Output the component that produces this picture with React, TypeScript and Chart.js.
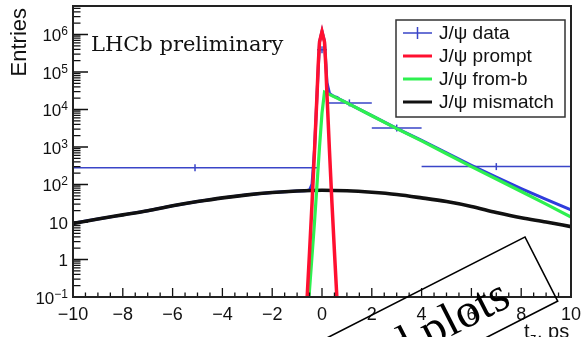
import React, { useEffect, useRef } from "react";
import { Chart, registerables } from "chart.js";
Chart.register(...registerables);

// ---------- data ----------
const X_MIN = -10;
const X_MAX = 10;
const Y_MIN = 0.1;
const Y_MAX = 5.75e6;

// J/psi data: bins
const dataBinLow = [-10, -0.2, 0.2, 2, 4];
const dataBinHigh = [-0.2, 0.2, 2, 4, 10];
const dataValues = [280, 3.9e5, 1.5e4, 3200, 300];

// prompt component
const promptT = [-0.7, -0.6, -0.5, -0.4, -0.3, -0.2, -0.15, -0.1, 0, 0.1, 0.15, 0.2, 0.3, 0.4, 0.5, 0.6, 0.7];
const promptV = [0.005, 0.09, 1.6, 32, 800, 2.5e4, 1.6e5, 6.3e5, 1.2e6, 6.3e5, 1.6e5, 2.5e4, 800, 32, 1.6, 0.09, 0.005];

// from-b component
const fromBT = [-0.6, -0.5, -0.4, -0.3, -0.2, -0.1, 0, 0.1, 1, 2, 3, 4, 5, 6, 7, 8, 9, 10];
const fromBV = [0.02, 0.16, 1.26, 10, 100, 1000, 8000, 2.9e4, 1.5e4, 6800, 3100, 1450, 660, 300, 140, 65, 30, 13.5];

// mismatch component
const mismatchT = [-10, -9, -8, -7, -6, -5, -4, -3, -2, -1, 0, 1, 2, 3, 4, 5, 6, 7, 8, 9, 10];
const mismatchV = [9.2, 12, 15.5, 20, 27, 35, 44, 53, 61, 67, 70, 68, 62, 54, 44, 35, 26, 18, 13, 10, 7.5];

// total fit
const totalT = [-10, -9, -8, -7, -6, -5, -4, -3, -2, -1, -0.7, -0.6, -0.5, -0.4, -0.3, -0.2, -0.1, 0, 0.1, 0.2, 0.3, 0.4, 0.5, 0.6, 0.7, 1, 2, 3, 4, 5, 6, 7, 8, 9, 10];
const totalV = [9.2, 12, 15.5, 20, 27, 35, 44, 53, 61, 67, 68, 69, 71, 103, 880, 2.52e4, 6.3e5, 1.21e6, 6.6e5, 5.25e4, 2.68e4, 2.4e4, 2.2e4, 2.1e4, 1.9e4, 1.5e4, 6860, 3150, 1494, 695, 326, 158, 78, 40, 21];

// axis labels
const xTickValues = [-10, -8, -6, -4, -2, 0, 2, 4, 6, 8, 10];
const xTickLabels = ["\u221210", "\u22128", "\u22126", "\u22124", "\u22122", "0", "2", "4", "6", "8", "10"];
const yTickValues = [0.1, 1, 10, 100, 1e3, 1e4, 1e5, 1e6];
const yTickBase = ["10", "1", "10", "10", "10", "10", "10", "10"];
const yTickExp = ["\u22121", "", "", "2", "3", "4", "5", "6"];

const legendLabels = ["J/\u03c8 data", "J/\u03c8 prompt", "J/\u03c8 from-b", "J/\u03c8 mismatch"];
const legendColors = ["#3a45c8", "#ff1030", "#2ef050", "#111111"];

const COL_TOTAL = "#2f3cdc";
const COL_DATA = "#3a45c8";
const COL_PROMPT = "#ff1030";
const COL_FROMB = "#2ef050";
const COL_MIS = "#111111";

const SANS = '"Liberation Sans", Arial, Helvetica, sans-serif';
const SERIF = '"Liberation Serif", "Times New Roman", serif';

function pts(t: number[], v: number[]) {
  return t.map((x, i) => ({ x, y: v[i] }));
}

const decorPlugin = {
  id: "decor",
  afterDraw(chart: any) {
    const { ctx, chartArea: a, scales } = chart;
    const xs = scales.x;
    const ys = scales.y;
    ctx.save();

    // ticks
    ctx.strokeStyle = "#111";
    ctx.lineWidth = 1.3;
    ctx.beginPath();
    for (let v = X_MIN; v <= X_MAX + 1e-9; v += 0.5) {
      const px = xs.getPixelForValue(v);
      const major = Math.abs(v / 2 - Math.round(v / 2)) < 1e-6;
      const len = major ? 9 : 4.5;
      ctx.moveTo(px, a.bottom);
      ctx.lineTo(px, a.bottom - len);
    }
    for (let e = -1; e <= 6; e++) {
      for (let m = 1; m <= 9; m++) {
        const v = m * Math.pow(10, e);
        if (v < Y_MIN || v > Y_MAX) continue;
        const py = ys.getPixelForValue(v);
        const len = m === 1 ? 15 : 7.5;
        ctx.moveTo(a.left, py);
        ctx.lineTo(a.left + len, py);
      }
    }
    ctx.stroke();

    // frame
    ctx.strokeStyle = "#222";
    ctx.lineWidth = 2;
    ctx.strokeRect(a.left, a.top, a.right - a.left, a.bottom - a.top);

    // x tick labels
    ctx.fillStyle = "#111";
    ctx.font = `18px ${SANS}`;
    ctx.textAlign = "center";
    ctx.textBaseline = "alphabetic";
    xTickValues.forEach((v, i) => {
      ctx.fillText(xTickLabels[i], xs.getPixelForValue(v), a.bottom + 23);
    });

    // y tick labels
    yTickValues.forEach((v, i) => {
      const py = ys.getPixelForValue(v);
      const right = 68;
      ctx.textAlign = "right";
      if (yTickExp[i]) {
        ctx.font = `12px ${SANS}`;
        const ew = ctx.measureText(yTickExp[i]).width;
        ctx.fillText(yTickExp[i], right, py + 1);
        ctx.font = `17px ${SANS}`;
        ctx.fillText(yTickBase[i], right - ew, py + 7);
      } else {
        ctx.font = `17px ${SANS}`;
        ctx.fillText(yTickBase[i], right, py + 7);
      }
    });

    // y title
    ctx.save();
    ctx.translate(26, 8);
    ctx.rotate(-Math.PI / 2);
    ctx.font = `22px ${SANS}`;
    ctx.textAlign = "right";
    ctx.textBaseline = "alphabetic";
    ctx.fillText("Entries", 0, 0);
    ctx.restore();

    // x title: t_z, ps
    ctx.font = `20px ${SANS}`;
    ctx.textAlign = "left";
    ctx.fillText("t", 524, 338);
    ctx.font = `13px ${SANS}`;
    ctx.fillText("z", 530, 342);
    ctx.font = `20px ${SANS}`;
    ctx.fillText(", ps", 537, 338);

    // LHCb preliminary
    ctx.font = `21px "DejaVu Serif", ${SERIF}`;
    ctx.fillText("LHCb preliminary", 91, 51);

    // legend
    const lx = 396, ly = 20, lw = 169, lh = 97;
    ctx.fillStyle = "#fff";
    ctx.fillRect(lx, ly, lw, lh);
    ctx.strokeStyle = "#333";
    ctx.lineWidth = 1.5;
    ctx.strokeRect(lx, ly, lw, lh);
    legendLabels.forEach((lab, i) => {
      const cy = 33 + i * 23;
      ctx.strokeStyle = legendColors[i];
      ctx.lineWidth = i === 0 ? 1.5 : 3;
      ctx.beginPath();
      ctx.moveTo(403, cy);
      ctx.lineTo(432, cy);
      if (i === 0) {
        ctx.moveTo(417.5, cy - 6);
        ctx.lineTo(417.5, cy + 6);
      }
      ctx.stroke();
      ctx.fillStyle = "#111";
      ctx.font = `19px ${SANS}`;
      ctx.textAlign = "left";
      ctx.textBaseline = "middle";
      ctx.fillText(lab, 439, cy + 1);
    });

    // stamp
    ctx.save();
    ctx.translate(525, 237);
    ctx.rotate((-27 * Math.PI) / 180);
    ctx.strokeStyle = "#000";
    ctx.lineWidth = 1.6;
    ctx.strokeRect(-600, 0, 600, 72);
    ctx.fillStyle = "#000";
    ctx.font = `48px ${SERIF}`;
    ctx.textAlign = "right";
    ctx.textBaseline = "alphabetic";
    ctx.fillText("Superseded plots", -42, 55);
    ctx.restore();

    ctx.restore();
  },
};

export default function App() {
  const ref = useRef<HTMLCanvasElement | null>(null);
  useEffect(() => {
    if (!ref.current) return;
    const centers = dataBinLow.map((lo, i) => ({ x: (lo + dataBinHigh[i]) / 2, y: dataValues[i] }));
    const segs: any[] = [];
    dataBinLow.forEach((lo, i) => {
      segs.push({ x: lo, y: dataValues[i] });
      segs.push({ x: dataBinHigh[i], y: dataValues[i] });
      segs.push({ x: dataBinHigh[i], y: null });
    });
    const chart = new Chart(ref.current, {
      type: "scatter",
      data: {
        datasets: [
          { label: "prompt", data: pts(promptT, promptV), showLine: true, borderColor: COL_PROMPT, borderWidth: 3.5, pointRadius: 0 },
          { label: "fromb", data: pts(fromBT, fromBV), showLine: true, borderColor: COL_FROMB, borderWidth: 3.2, pointRadius: 0 },
          { label: "mismatch", data: pts(mismatchT, mismatchV), showLine: true, borderColor: COL_MIS, borderWidth: 3.6, pointRadius: 0, cubicInterpolationMode: "monotone" },
          { label: "datamark", data: centers, showLine: false, borderColor: COL_DATA, borderWidth: 1.5, pointStyle: "line", rotation: 90, pointRadius: 3.5 },
          { label: "data", data: segs, showLine: true, spanGaps: false, borderColor: COL_DATA, borderWidth: 1.5, pointRadius: 0 },
          { label: "total", data: pts(totalT, totalV), showLine: true, borderColor: COL_TOTAL, borderWidth: 3, pointRadius: 0 },
        ] as any,
      },
      options: {
        responsive: false,
        animation: false,
        devicePixelRatio: 1,
        layout: { padding: { left: 73, right: 12, top: 6, bottom: 40 } },
        scales: {
          x: { type: "linear", min: X_MIN, max: X_MAX, display: false },
          y: { type: "logarithmic", min: Y_MIN, max: Y_MAX, display: false },
        },
        plugins: { legend: { display: false }, tooltip: { enabled: false } },
      } as any,
      plugins: [decorPlugin],
    });
    return () => chart.destroy();
  }, []);
  return (
    <div style={{ position: "fixed", left: 0, top: 0, width: 583, height: 337, background: "#fff", overflow: "hidden" }}>
      <canvas ref={ref} width={583} height={337} style={{ display: "block" }} />
    </div>
  );
}
